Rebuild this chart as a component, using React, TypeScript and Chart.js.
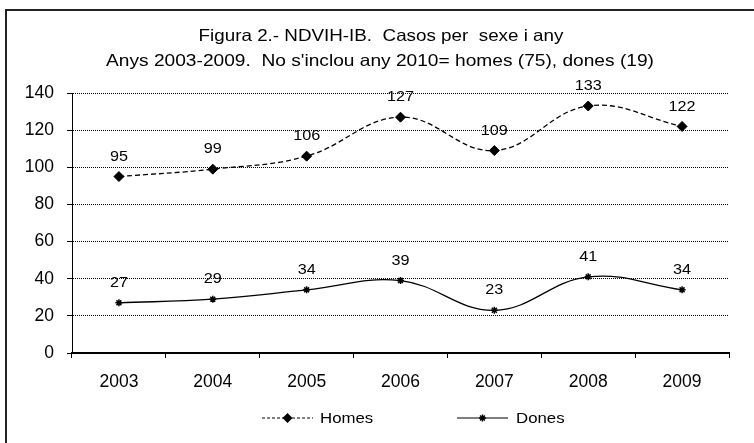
import React, { useEffect, useRef } from "react";
import { Chart, registerables } from "chart.js";

Chart.register(...registerables);

const categories = ["2003", "2004", "2005", "2006", "2007", "2008", "2009"];
const homes = [95, 99, 106, 127, 109, 133, 122];
const dones = [27, 29, 34, 39, 23, 41, 34];
const titleLines = [
  "Figura 2.- NDVIH-IB.  Casos per  sexe i any",
  "Anys 2003-2009.  No s'inclou any 2010= homes (75), dones (19)",
];
const seriesNames = ["Homes", "Dones"];
const yMin = 0;
const yMax = 140;
const yStep = 20;

const FONT = "'Liberation Sans', Arial, sans-serif";

function stretchText(ctx: any, text: string, x: number, y: number, k: number) {
  ctx.save();
  ctx.translate(x, y);
  ctx.scale(k, 1);
  ctx.fillText(text, 0, 0);
  ctx.restore();
}

const extrasPlugin = {
  id: "extras",
  beforeDraw(chart: any) {
    const ctx = chart.ctx;
    ctx.save();
    ctx.fillStyle = "#fff";
    ctx.fillRect(0, 0, chart.width, chart.height);
    ctx.strokeStyle = "#222";
    ctx.lineWidth = 2;
    ctx.strokeRect(6, 10, 800, 600);
    ctx.restore();
  },
  afterDatasetsDraw(chart: any) {
    const ctx = chart.ctx;
    ctx.save();
    ctx.fillStyle = "#000";
    ctx.font = `15px ${FONT}`;
    ctx.textAlign = "center";
    ctx.textBaseline = "middle";
    chart.data.datasets.forEach((ds: any, i: number) => {
      const meta = chart.getDatasetMeta(i);
      meta.data.forEach((pt: any, j: number) => {
        stretchText(ctx, String(ds.data[j]), pt.x, pt.y - 20, 1.08);
      });
    });
    // Title
    ctx.font = `16.5px ${FONT}`;
    stretchText(ctx, titleLines[0], 381, 36.5, 1.14);
    stretchText(ctx, titleLines[1], 380, 61.5, 1.16);
    // Legend
    const ly = 418;
    const items = [
      { x0: 262, x1: 313, tx: 320, dash: [3, 2], style: "rectRot", r: 5, name: seriesNames[0] },
      { x0: 457, x1: 508, tx: 516, dash: [], style: "star", r: 3.5, name: seriesNames[1] },
    ];
    ctx.textAlign = "left";
    ctx.font = `15px ${FONT}`;
    items.forEach((it) => {
      ctx.strokeStyle = "#000";
      ctx.lineWidth = 1.2;
      ctx.setLineDash(it.dash);
      ctx.beginPath();
      ctx.moveTo(it.x0, ly);
      ctx.lineTo(it.x1, ly);
      ctx.stroke();
      ctx.setLineDash([]);
      const cx = (it.x0 + it.x1) / 2;
      if (it.style === "rectRot") {
        ctx.beginPath();
        ctx.moveTo(cx, ly - it.r);
        ctx.lineTo(cx + it.r, ly);
        ctx.lineTo(cx, ly + it.r);
        ctx.lineTo(cx - it.r, ly);
        ctx.closePath();
        ctx.fill();
      } else {
        ctx.lineWidth = 1.5;
        ctx.beginPath();
        ctx.moveTo(cx - it.r, ly);
        ctx.lineTo(cx + it.r, ly);
        ctx.moveTo(cx, ly - it.r);
        ctx.lineTo(cx, ly + it.r);
        const d = it.r * 0.7;
        ctx.moveTo(cx - d, ly - d);
        ctx.lineTo(cx + d, ly + d);
        ctx.moveTo(cx - d, ly + d);
        ctx.lineTo(cx + d, ly - d);
        ctx.stroke();
      }
      stretchText(ctx, it.name, it.tx, ly + 1, 1.12);
    });
    ctx.restore();
  },
};

export default function App() {
  const ref = useRef<HTMLCanvasElement>(null);
  useEffect(() => {
    if (!ref.current) return;
    const chart = new Chart(ref.current, {
      type: "line",
      data: {
        labels: categories,
        datasets: [
          {
            label: seriesNames[0],
            data: homes,
            borderColor: "#000",
            backgroundColor: "#000",
            borderWidth: 1.3,
            borderDash: [5, 3],
            tension: 0.4,
            pointStyle: "rectRot",
            pointRadius: 5,
            pointBackgroundColor: "#000",
            pointBorderColor: "#000",
            pointBorderWidth: 1,
            fill: false,
          },
          {
            label: seriesNames[1],
            data: dones,
            borderColor: "#000",
            backgroundColor: "#000",
            borderWidth: 1.3,
            tension: 0.4,
            pointStyle: "star",
            pointRadius: 3.5,
            pointBorderColor: "#000",
            pointBorderWidth: 1.5,
            fill: false,
          },
        ],
      },
      options: {
        responsive: false,
        animation: false,
        layout: { padding: { top: 93, right: 25, left: 0, bottom: 0 } },
        plugins: {
          legend: { display: false },
          title: { display: false },
          tooltip: { enabled: false },
        },
        scales: {
          x: {
            offset: true,
            grid: {
              display: true,
              drawOnChartArea: false,
              drawTicks: true,
              tickLength: 5,
              tickColor: "#000",
              tickWidth: 1,
              offset: true,
            },
            border: { display: true, color: "#000", width: 2 },
            ticks: {
              color: "#000",
              font: { family: FONT, size: 17.5 },
              padding: 14,
              maxRotation: 0,
              autoSkip: false,
            },
            afterFit: (s: any) => {
              s.height = 90;
            },
          },
          y: {
            min: yMin,
            max: yMax,
            ticks: {
              stepSize: yStep,
              color: "#000",
              font: { family: FONT, size: 17.5 },
              padding: 13,
            },
            grid: {
              color: "#000",
              lineWidth: 1,
              tickLength: 5,
              tickColor: "#000",
              tickWidth: 1,
              tickBorderDash: [],
            },
            border: { display: true, color: "#000", width: 1, dash: [1, 1] },
            afterFit: (s: any) => {
              s.width = 72;
            },
          },
        },
      },
      plugins: [extrasPlugin],
    });
    return () => chart.destroy();
  }, []);
  return (
    <div style={{ position: "absolute", left: 0, top: 0, width: 754, height: 443, background: "#fff" }}>
      <canvas ref={ref} width={754} height={443} style={{ display: "block", width: 754, height: 443 }} />
    </div>
  );
}
